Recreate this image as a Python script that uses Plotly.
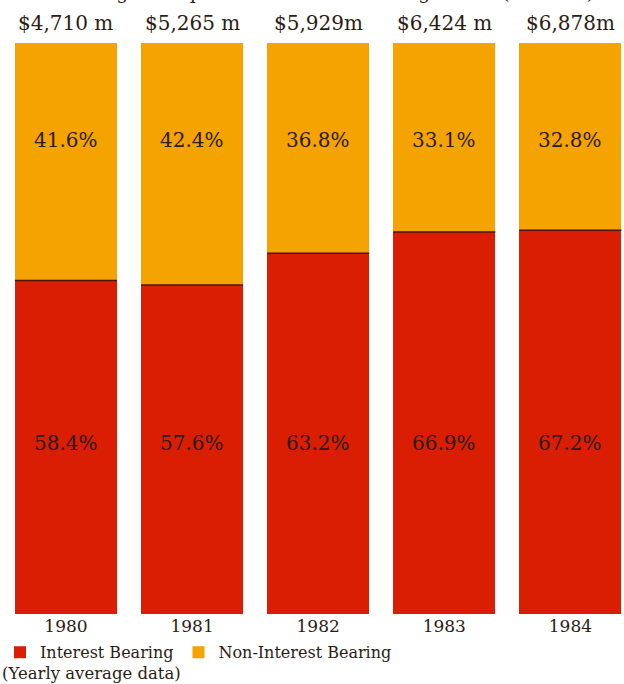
import plotly.graph_objects as go

# Yearly average deposit composition
years = ["1980", "1981", "1982", "1983", "1984"]
totals = ["$4,710 m", "$5,265 m", "$5,929m", "$6,424 m", "$6,878m"]
interest_bearing = [58.4, 57.6, 63.2, 66.9, 67.2]
non_interest_bearing = [41.6, 42.4, 36.8, 33.1, 32.8]

RED = "#d91e04"
ORANGE = "#f5a300"
TEXT = "#2b1c14"
SERIF = "DejaVu Serif"
BAR_W = 0.81

xs = list(range(len(years)))

fig = go.Figure()
fig.add_trace(go.Bar(
    x=xs, y=interest_bearing, name="Interest Bearing",
    marker=dict(color=RED, line=dict(width=0)), width=BAR_W,
))
fig.add_trace(go.Bar(
    x=xs, y=non_interest_bearing, name="Non-Interest Bearing",
    marker=dict(color=ORANGE, line=dict(width=0)), width=BAR_W,
))

# thin dark divider where the two segments meet
div_x, div_y = [], []
for i, v in zip(xs, interest_bearing):
    div_x += [i - BAR_W / 2, i + BAR_W / 2, None]
    div_y += [v, v, None]
fig.add_trace(go.Scatter(
    x=div_x, y=div_y, mode="lines", line=dict(color="#4a1408", width=1.5),
    showlegend=False, hoverinfo="skip",
))

annotations = []
for i in xs:
    annotations.append(dict(
        x=i, y=83, xref="x", yref="y", text=f"{non_interest_bearing[i]}%",
        showarrow=False, font=dict(family=SERIF, size=20, color=TEXT),
    ))
    annotations.append(dict(
        x=i, y=30, xref="x", yref="y", text=f"{interest_bearing[i]}%",
        showarrow=False, font=dict(family=SERIF, size=20, color=TEXT),
    ))
    annotations.append(dict(
        x=i, y=1, xref="x", yref="paper", yanchor="bottom", yshift=6,
        text=totals[i], showarrow=False,
        font=dict(family=SERIF, size=20, color=TEXT),
    ))

annotations.append(dict(
    x=0.5, y=1.09, xref="paper", yref="paper", yanchor="middle",
    text="Percentage Composition of Total Banking Funds (Millions)",
    showarrow=False, font=dict(family=SERIF, size=19, color=TEXT),
))
annotations.append(dict(
    x=0, y=-0.105, xref="paper", yref="paper", xanchor="left", yanchor="middle",
    text="(Yearly average data)", showarrow=False,
    font=dict(family=SERIF, size=16.5, color=TEXT),
))

fig.update_layout(
    width=624, height=684,
    margin=dict(l=0, r=0, t=43, b=70, autoexpand=False),
    barmode="stack",
    plot_bgcolor="white", paper_bgcolor="white",
    showlegend=True,
    legend=dict(
        orientation="h", x=0, y=-0.067, xanchor="left", yanchor="middle",
        font=dict(family=SERIF, size=16, color=TEXT),
        traceorder="normal", itemwidth=30, bgcolor="rgba(0,0,0,0)",
    ),
    annotations=annotations,
    xaxis=dict(
        range=[-0.523, 4.425], tickmode="array", tickvals=xs, ticktext=years,
        showgrid=False, zeroline=False, showline=False, ticks="",
        tickfont=dict(family=SERIF, size=17, color=TEXT),
    ),
    yaxis=dict(range=[0, 100], visible=False),
)

fig.write_html("out.html")
